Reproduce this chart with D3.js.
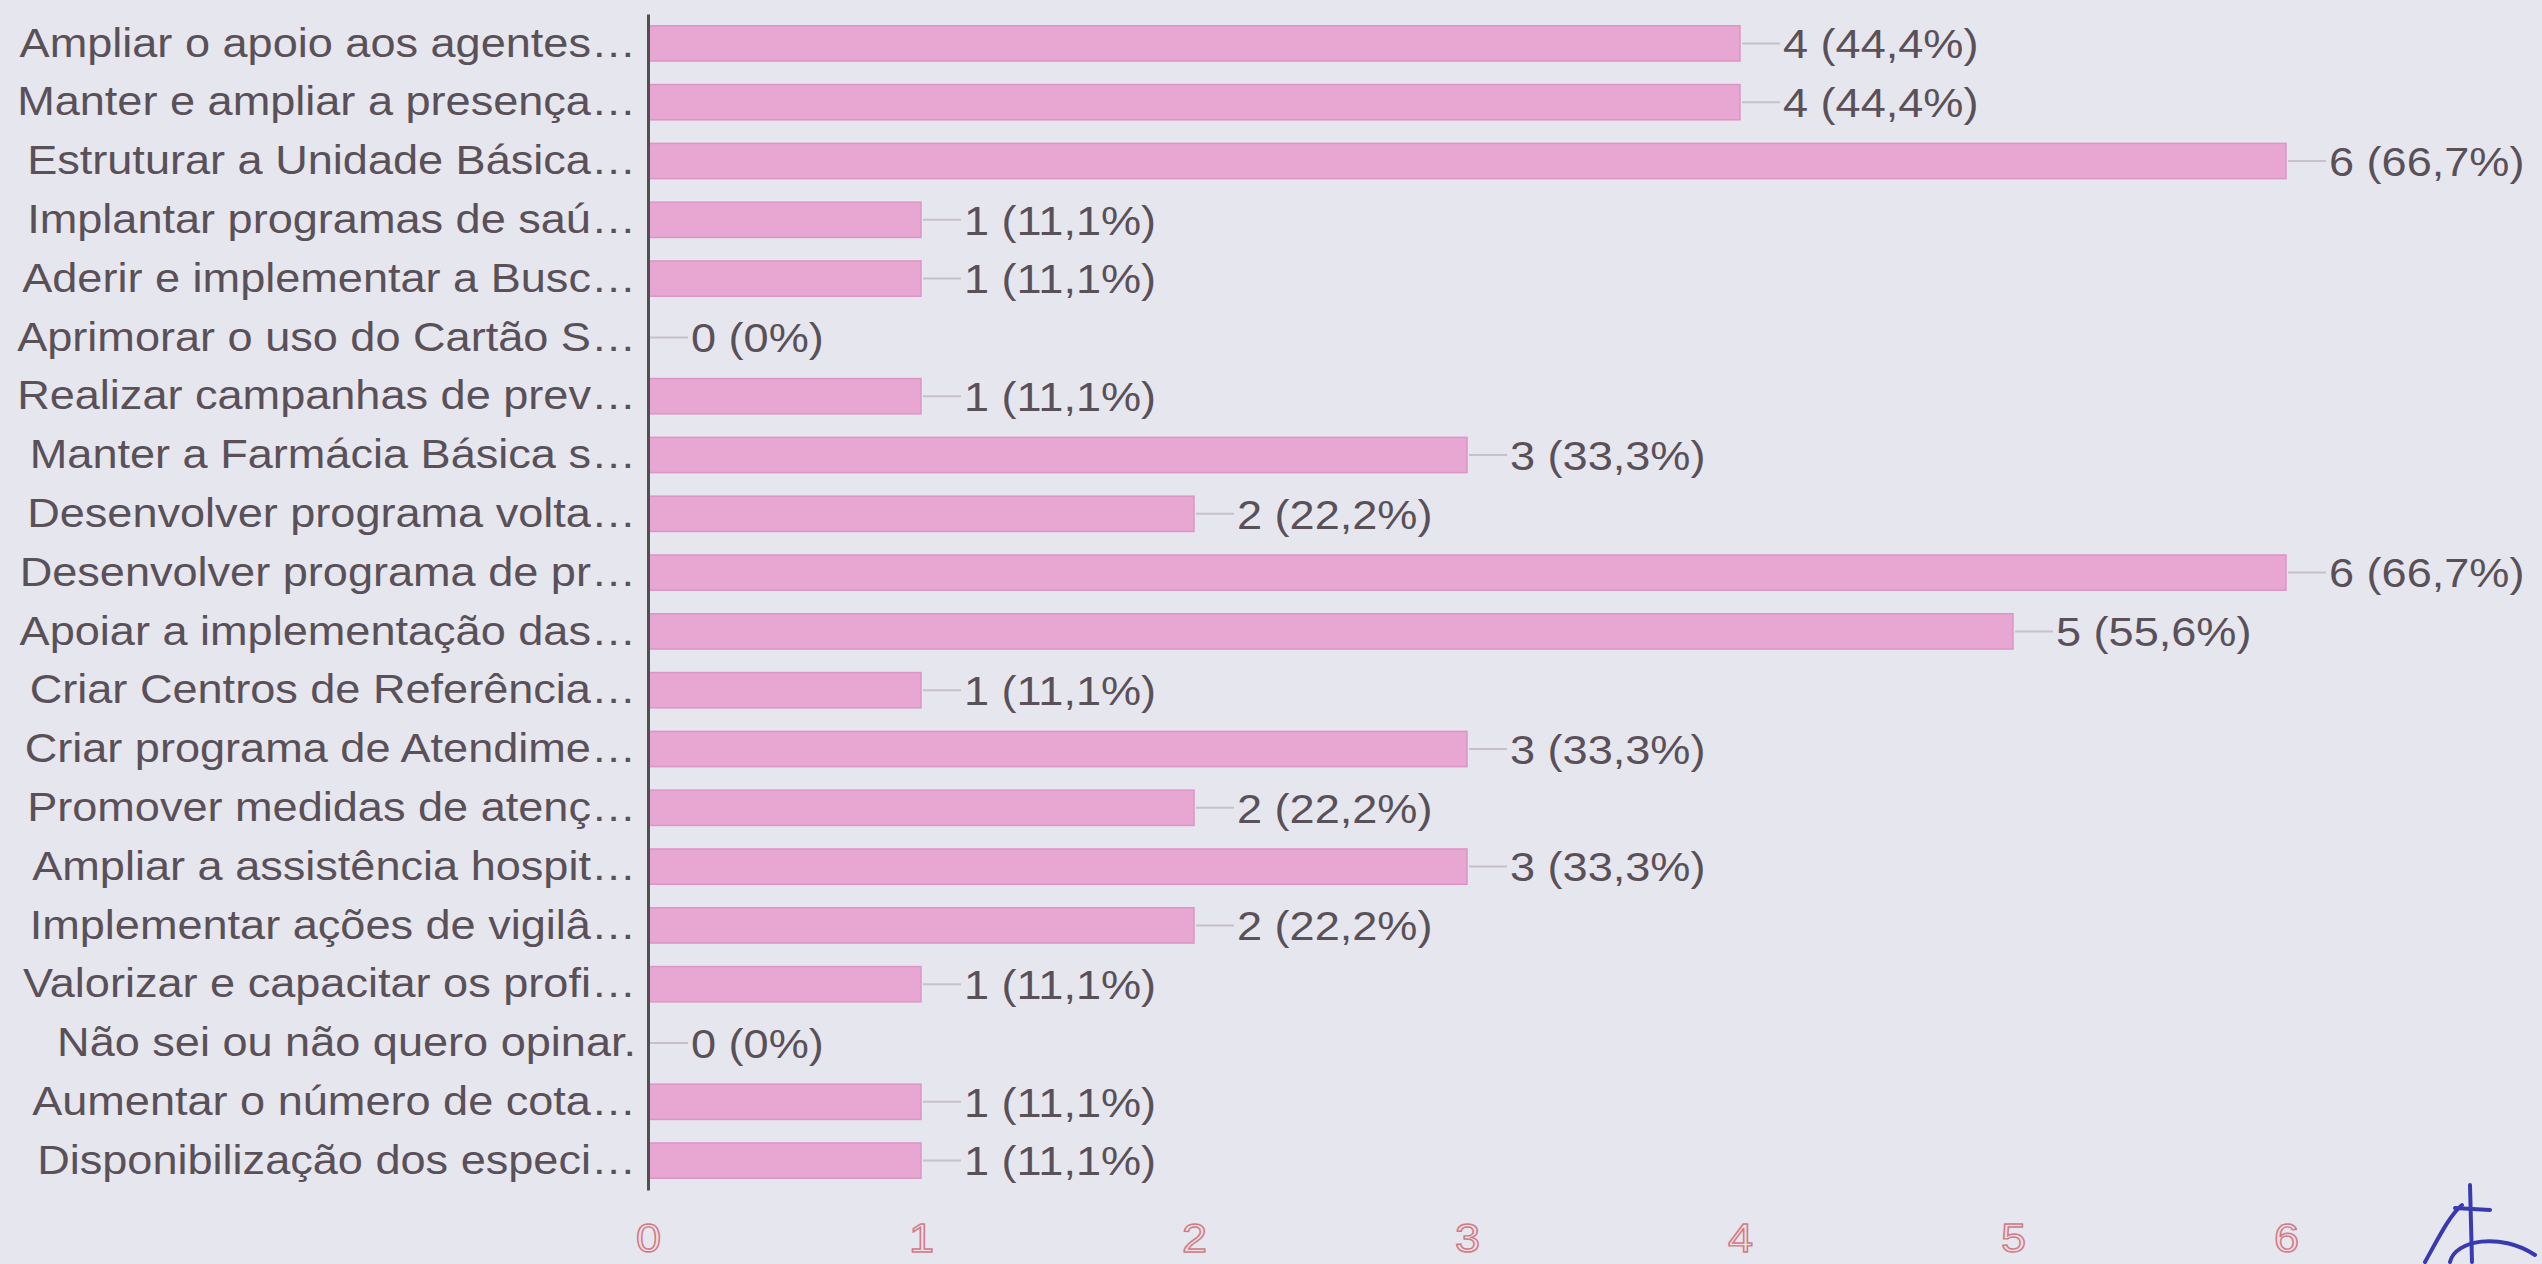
<!DOCTYPE html>
<html>
<head>
<meta charset="utf-8">
<script src="https://cdn.jsdelivr.net/npm/d3@7/dist/d3.min.js"></script>
<style>
  html, body { margin: 0; padding: 0; background: #e6e6ee; }
  svg { display: block; }
</style>
</head>
<body>
<script>
const categories = [
  "Ampliar o apoio aos agentes…",
  "Manter e ampliar a presença…",
  "Estruturar a Unidade Básica…",
  "Implantar programas de saú…",
  "Aderir e implementar a Busc…",
  "Aprimorar o uso do Cartão S…",
  "Realizar campanhas de prev…",
  "Manter a Farmácia Básica s…",
  "Desenvolver programa volta…",
  "Desenvolver programa de pr…",
  "Apoiar a implementação das…",
  "Criar Centros de Referência…",
  "Criar programa de Atendime…",
  "Promover medidas de atenç…",
  "Ampliar a assistência hospit…",
  "Implementar ações de vigilâ…",
  "Valorizar e capacitar os profi…",
  "Não sei ou não quero opinar.",
  "Aumentar o número de cota…",
  "Disponibilização dos especi…"
];
const counts = [4, 4, 6, 1, 1, 0, 1, 3, 2, 6, 5, 1, 3, 2, 3, 2, 1, 0, 1, 1];
const percents = ["44,4%", "44,4%", "66,7%", "11,1%", "11,1%", "0%", "11,1%", "33,3%", "22,2%", "66,7%",
                  "55,6%", "11,1%", "33,3%", "22,2%", "33,3%", "22,2%", "11,1%", "0%", "11,1%", "11,1%"];
const xTicks = [0, 1, 2, 3, 4, 5, 6];

const W = 2542, H = 1264;
const FONT = "'Liberation Sans', Arial, sans-serif";
const FS = 41, SX = 1.1;
const textColor = "#5a5058";

const svg = d3.select("body").append("svg").attr("width", W).attr("height", H);
svg.append("rect").attr("width", W).attr("height", H).attr("fill", "#e6e6ee");

const x = d3.scaleLinear().domain([0, 6]).range([648, 2286]);
const y = d3.scaleBand().domain(categories).range([14, 1190]).paddingInner(0.4).paddingOuter(0.2);

// bars
svg.append("g").selectAll("rect").data(categories).join("rect")
  .attr("x", x(0))
  .attr("y", d => y(d))
  .attr("width", (d, i) => x(counts[i]) - x(0))
  .attr("height", y.bandwidth())
  .attr("fill", "#e8a6d2")
  .attr("stroke", "#dc96c4")
  .attr("stroke-width", 1.5);

// leader lines + value labels
const vl = svg.append("g").selectAll("g").data(categories).join("g")
  .attr("transform", (d, i) => `translate(${x(counts[i])},${y(d) + y.bandwidth() / 2})`);
vl.append("line")
  .attr("x1", 2).attr("x2", 40).attr("y1", 0).attr("y2", 0)
  .attr("stroke", "#c8c0c8").attr("stroke-width", 2);
vl.append("text")
  .attr("transform", `translate(43,0) scale(${SX},1)`)
  .attr("dy", "0.36em")
  .attr("font-family", FONT).attr("font-size", FS)
  .attr("fill", textColor)
  .text((d, i) => `${counts[i]} (${percents[i]})`);

// y axis
const yAxis = svg.append("g").attr("transform", `translate(${x(0)},0)`)
  .call(d3.axisLeft(y).tickSize(0).tickSizeOuter(0).tickPadding(12));
yAxis.select(".domain").attr("stroke", "#505050").attr("stroke-width", 3);
yAxis.selectAll(".tick text")
  .attr("x", -12 / SX)
  .attr("transform", `scale(${SX},1)`)
  .attr("font-family", FONT).attr("font-size", FS)
  .attr("fill", textColor);

// x axis
const xAxis = svg.append("g").attr("transform", `translate(0,1222)`)
  .call(d3.axisBottom(x).tickValues(xTicks).tickSize(0).tickSizeOuter(0).tickPadding(0).tickFormat(d3.format("d")));
xAxis.select(".domain").remove();
xAxis.selectAll(".tick text")
  .attr("transform", `scale(${SX},1)`)
  .attr("dy", "0.72em")
  .attr("font-family", FONT).attr("font-size", FS)
  .attr("fill", "#f0dde2")
  .attr("stroke", "#cf7a86").attr("stroke-width", 1.4);

// handwritten signature (scan artefact), decorative
const sig = svg.append("g").attr("fill", "none").attr("stroke", "#3a3ab0").attr("stroke-width", 4).attr("stroke-linecap", "round");
sig.append("path").attr("d", "M2470,1185 L2472,1262");
sig.append("path").attr("d", "M2425,1262 C2440,1235 2450,1215 2462,1205");
sig.append("path").attr("d", "M2455,1208 L2490,1210");
sig.append("path").attr("d", "M2450,1262 C2455,1240 2500,1232 2535,1255");
</script>
</body>
</html>
